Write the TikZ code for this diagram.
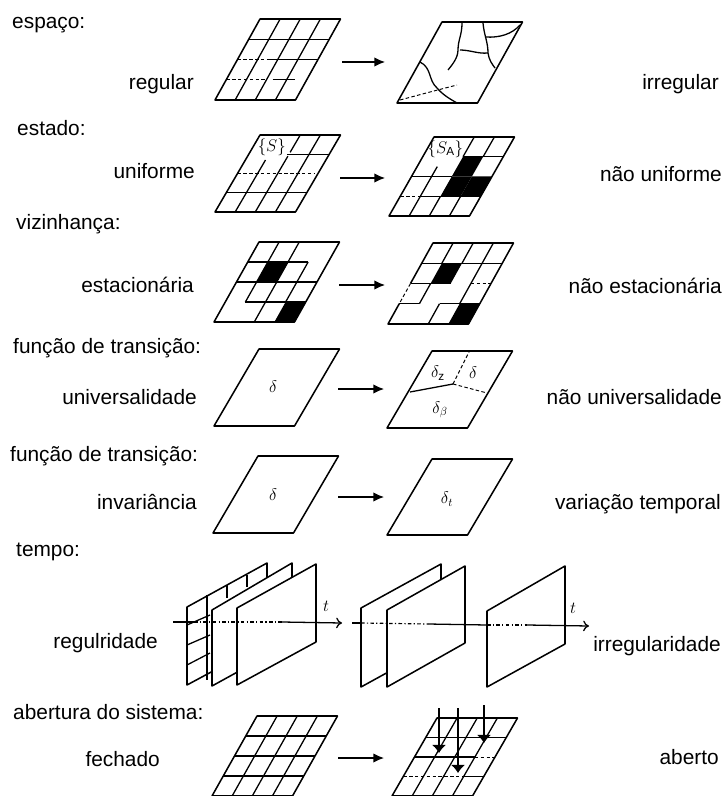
\documentclass[tikz,border=0pt]{standalone}
\usepackage{fontspec}
\setmainfont{Liberation Sans}
\usetikzlibrary{arrows.meta}
\tikzset{
  rotulo/.style={inner sep=0pt,text height=15pt,text depth=3.5pt,font=\fontsize{17.8}{20}\selectfont},
  titulo/.style={rotulo,anchor=west},
  nome/.style={rotulo,anchor=east},
  letra/.style={inner sep=0pt,font=\Large},
  contorno/.style={line width=1.3pt,line join=round},
  linha/.style={line width=1.1pt},
  fraca/.style={line width=.8pt,dash pattern=on 3pt off 2pt},
  seta/.style={line width=1.1pt,-{Latex[length=9pt,width=8pt]}},
  queda/.style={line width=.9pt,-{Latex[length=7pt,width=12pt]}},
  saida/.style={line width=1.1pt,-{To[length=5pt,width=9pt]}},
  eixo/.style={line width=1pt,dash pattern=on 3pt off 2pt on 1pt off 2pt},
  placa/.style n args={3}{shift={(#1,#2)},x={(.60375cm,0cm)},y={(.3375cm,#3cm)}},
}
\newcommand{\moldura}{\draw[contorno] (0,0)--(4,0)--(4,4)--(0,4)--cycle;}
\newcommand{\celula}[2]{\fill (#1,#2)--++(1,0)--++(0,1)--++(-1,0)--cycle;}
\begin{document}
\begin{tikzpicture}[x=.03cm,y=-.03cm]
\useasboundingbox (0,0) rectangle (723,796);
% titulos
\node[titulo] (tespaco) at (12,22) {espaço:};
\node[titulo] (testado) at (17,129) {estado:};
\node[titulo] (tvizinhanca) at (16,223) {vizinhança:};
\node[titulo] (tfuncaoa) at (13,347) {função de transição:};
\node[titulo] (tfuncaob) at (10,455) {função de transição:};
\node[titulo] (ttempo) at (16,550) {tempo:};
\node[titulo] (tabertura) at (13,713) {abertura do sistema:};
% nomes
\node[nome] (regular) at (194,83) {regular};
\node[nome] (irregular) at (719,83) {irregular};
\node[nome] (uniforme) at (195,172) {uniforme};
\node[nome] (nuniforme) at (722,175) {não uniforme};
\node[nome] (estacionaria) at (194,286) {estacionária};
\node[nome] (nestacionaria) at (722,287) {não estacionária};
\node[nome] (universal) at (197,398) {universalidade};
\node[nome] (nuniversal) at (722,398) {não universalidade};
\node[nome] (invariancia) at (197,503) {invariância};
\node[nome] (variacao) at (721,503) {variação temporal};
\node[nome] (regulridade) at (158,642) {regulridade};
\node[nome] (irregularidade) at (721,645) {irregularidade};
\node[nome] (fechado) at (160,760) {fechado};
\node[nome] (aberto) at (719,758) {aberto};

% espaco
\begin{scope}[placa={215}{100}{.6075}]
\moldura
\foreach \u in {1,2,3} \draw[linha] (\u,0)--(\u,4);
\draw[linha] (0,3)--(4,3);
\draw[fraca] (0,2)--(1.5,2);
\draw[linha] (1.5,2)--(4,2);
\draw[fraca] (0,1)--(2,1);
\draw[linha] (2.3,1)--(3.4,1);
\end{scope}
\begin{scope}[placa={397}{103}{.6075}]
\moldura
\end{scope}
\draw[linha] (462,23) .. controls (462,35) and (458,40) .. (458,50) .. controls (458,58) and (452,65) .. (448,70);
\draw[linha] (460,50) .. controls (470,50) and (478,54) .. (488,53);
\draw[linha] (483,23) .. controls (484,35) and (488,42) .. (488,53) .. controls (489,60) and (492,64) .. (495,68);
\draw[linha] (485,37) .. controls (500,38) and (512,34) .. (520,25);
\draw[linha] (420,62) .. controls (432,68) and (428,80) .. (437,88) .. controls (443,95) and (450,99) .. (457,103);
\draw[fraca] (400,100)--(430,92)--(457,85);

% estado
\begin{scope}[placa={215}{212}{.5775}]
\moldura
\draw[linha] (1,0)--(1,2.7);
\draw[linha] (2,0)--(2,2.9);
\draw[linha] (2,3.1)--(2,4);
\draw[linha] (3,0)--(3,4);
\draw[linha] (1.9,3)--(4,3);
\draw[fraca] (0,2)--(3.8,2);
\draw[linha] (0,1)--(4,1);
\node[letra] (sa) at (.95,3.35) {$\{S\}$};
\end{scope}
\begin{scope}[placa={389}{216}{.5925}]
\celula{2}{2}
\celula{2}{1}
\celula{3}{1}
\moldura
\draw[linha] (1,0)--(1,2.5);
\draw[linha] (2,0)--(2,1);
\draw[linha] (3,0)--(3,1);
\draw[linha] (2,3)--(2,4);
\draw[linha] (3,3)--(3,4);
\draw[linha] (2,3)--(4,3);
\draw[linha] (0,2)--(2,2);
\draw[fraca] (0,1)--(1,1);
\draw[linha] (1,1)--(4,1);
\node[letra] (sb) at (.9,3.4) {$\{S_{\mathrm{A}}\}$};
\end{scope}

% vizinhanca
\begin{scope}[placa={214}{322}{.6}]
\celula{1}{2}
\celula{3}{0}
\moldura
\draw[linha] (0,3)--(3,3);
\draw[linha] (0,2)--(4,2);
\draw[linha] (1,1)--(4,1);
\draw[linha] (1,3)--(1,4);
\draw[linha] (2,3)--(2,4);
\foreach \u in {1,2,3} \draw[linha] (\u,1)--(\u,3);
\draw[linha] (2,0)--(2,1);
\end{scope}
\begin{scope}[placa={388}{324}{.6075}]
\celula{1}{2}
\celula{3}{0}
\draw[contorno] (0,1)--(0,0)--(4,0)--(4,4)--(0,4)--(0,2);
\draw[fraca] (0,2)--(0,1);
\draw[linha] (0,3)--(4,3);
\draw[linha] (0,2)--(2,2);
\draw[fraca] (3,2)--(4,2);
\draw[linha] (0,1)--(1,1);
\draw[linha] (2,1)--(4,1);
\foreach \u in {1,2,3} \draw[linha] (\u,3)--(\u,4);
\draw[linha] (3,1)--(3,3);
\draw[linha] (1,1)--(1,2);
\draw[linha] (2,0)--(2,1);
\end{scope}

% universalidade
\begin{scope}[placa={214}{426}{.5775}]
\moldura
\end{scope}
\node[letra] (da) at (273,387) {$\delta$};
\begin{scope}[placa={387}{428}{.5775}]
\moldura
\end{scope}
\coordinate (junta) at (453,384);
\coordinate (ladoe) at (410,392);
\coordinate (ladod) at (487,393);
\coordinate (cima) at (469,352);
\draw[linha] (junta)--(ladoe);
\draw[fraca] (junta)--(ladod);
\draw[fraca] (junta)--(cima);
\node[letra] (db) at (438,373) {$\delta_{\mathrm{z}}$};
\node[letra] (dc) at (473,373) {$\delta$};
\node[letra] (dd) at (440,410) {$\delta_{\beta}$};

% invariancia
\begin{scope}[placa={213}{533}{.5775}]
\moldura
\end{scope}
\node[letra] (de) at (273,495) {$\delta$};
\begin{scope}[placa={387}{535}{.57}]
\moldura
\end{scope}
\node[letra] (df) at (447,499) {$\delta_{t}$};

% tempo
\draw[contorno,fill=white] (187,685)--(187,607)--(267,563)--(267,642)--cycle;
\draw[linha] (207,595)--(207,680);
\draw[linha] (227,585)--(227,598);
\draw[linha] (247,575)--(247,587);
\draw[linha] (187,645)--(210,635);
\draw[linha] (187,665)--(210,653);
\draw[linha] (187,625)--(210,615);
\draw[contorno,fill=white] (212,686)--(212,610)--(292,563)--(292,642)--cycle;
\draw[contorno,fill=white] (237,685)--(237,608)--(316,564)--(316,642)--cycle;
\coordinate (ea) at (173,622);
\coordinate (eb) at (194,622);
\coordinate (ec) at (282,622);
\coordinate (ed) at (342,623);
\draw[linha] (ea)--(eb);
\draw[eixo] (eb)--(ec);
\draw[saida] (ec)--(ed);
\node[letra] (ta) at (326,606) {$t$};
\draw[contorno,fill=white] (361,687)--(361,608)--(441,564)--(441,643)--cycle;
\draw[contorno,fill=white] (387,687)--(387,610)--(465,566)--(465,643)--cycle;
\draw[contorno,fill=white] (487,687)--(487,611)--(565,566)--(565,644)--cycle;
\coordinate (ee) at (352,623);
\coordinate (ef) at (361,623);
\coordinate (eg) at (428,624);
\coordinate (eh) at (487,625);
\coordinate (ei) at (527,625);
\coordinate (ej) at (589,626);
\draw[linha] (ee)--(ef);
\draw[eixo] (ef)--(eg);
\draw[linha] (eg)--(eh);
\draw[eixo] (eh)--(ei);
\draw[saida] (ei)--(ej);
\node[letra] (tb) at (573,608) {$t$};

% abertura
\begin{scope}[placa={212}{796}{.6}]
\moldura
\foreach \u in {1,2,3} \draw[linha] (\u,0)--(\u,4);
\foreach \v in {1,2,3} \draw[linha] (0,\v)--(4,\v);
\end{scope}
\begin{scope}[placa={392}{796}{.585}]
\moldura
\foreach \u in {1,2,3} \draw[linha] (\u,0)--(\u,4);
\draw[linha] (0,3)--(4,3);
\draw[linha] (0,2)--(3,2);
\draw[fraca] (3,2)--(4,2);
\draw[fraca] (0,1)--(3,1);
\draw[linha] (3,1)--(4,1);
\end{scope}
\coordinate (qa) at (439,708);
\coordinate (qb) at (439,753);
\coordinate (qc) at (458,708);
\coordinate (qd) at (458,773);
\coordinate (qe) at (484,705);
\coordinate (qf) at (484,743);
\draw[queda] (qa)--(qb);
\draw[queda] (qc)--(qd);
\draw[queda] (qe)--(qf);

% setas entre as placas
\coordinate (aa) at (342,62);  \coordinate (ab) at (385,62);
\coordinate (ba) at (340,178); \coordinate (bb) at (385,178);
\coordinate (ca) at (339,285); \coordinate (cb) at (385,285);
\coordinate (da0) at (338,389); \coordinate (db0) at (384,389);
\coordinate (ea0) at (338,497); \coordinate (eb0) at (384,497);
\coordinate (fa) at (338,758); \coordinate (fb) at (384,758);
\draw[seta] (aa)--(ab);
\draw[seta] (ba)--(bb);
\draw[seta] (ca)--(cb);
\draw[seta] (da0)--(db0);
\draw[seta] (ea0)--(eb0);
\draw[seta] (fa)--(fb);
\end{tikzpicture}
\end{document}
